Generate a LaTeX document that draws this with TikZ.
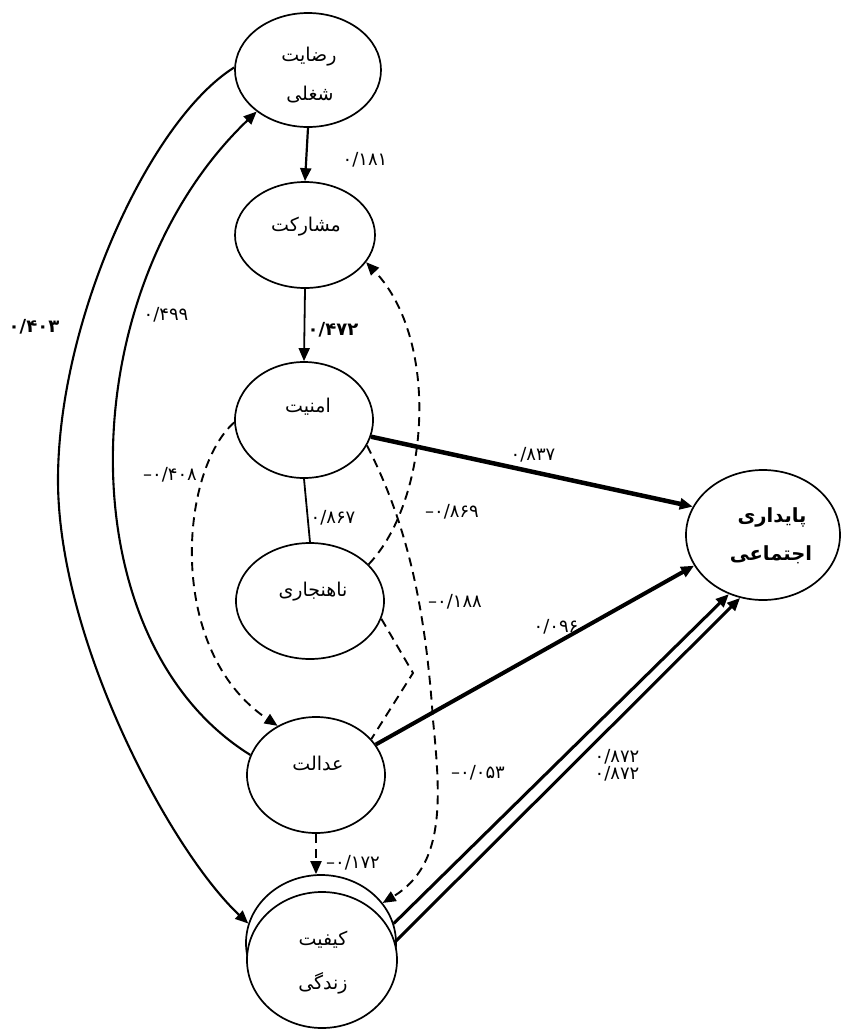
\documentclass[tikz,border=0pt]{standalone}
\usepackage{fontspec}
\usetikzlibrary{arrows.meta,shapes.geometric,calc}
\newfontfamily\fa[Script=Arabic]{DejaVu Sans}
\newfontfamily\num{DejaVu Sans}
\TeXXeTstate=1
\begin{document}
\begin{tikzpicture}[x=1pt,y=-1pt,
  el/.style={draw,ellipse,line width=1.7pt,fill=white,inner sep=0pt},
  ntext/.style={font=\fa\fontsize{19}{22}\selectfont,inner sep=0pt},
  btext/.style={font=\fa\bfseries\fontsize{19.5}{22}\selectfont,inner sep=0pt},
  arr/.style={-{Triangle[length=13pt,width=11pt]}},
  lbl/.style={font=\num\fontsize{18}{20}\selectfont,inner sep=0pt},
  blbl/.style={font=\num\bfseries\fontsize{18}{20}\selectfont,inner sep=0pt},
  dsh/.style={dash pattern=on 9pt off 6pt,line width=1.9pt}]
\useasboundingbox (0,0) rectangle (844,1029);
\fill[white] (0,0) rectangle (844,1029);

% ellipses
\node[el,minimum width=146pt,minimum height=114pt] (rs) at (308,70) {};
\node[el,minimum width=140pt,minimum height=106pt] (ms) at (305,235) {};
\node[el,minimum width=138pt,minimum height=116pt] (am) at (304,420) {};
\node[el,minimum width=148pt,minimum height=116pt] (nh) at (310,601) {};
\node[el,minimum width=138pt,minimum height=116pt] (ed) at (316,775) {};
\node[el,minimum width=150pt,minimum height=136pt] (kzb) at (321,943) {};
\node[el,minimum width=150pt,minimum height=136pt] (kz) at (322,960) {};
\node[el,minimum width=154pt,minimum height=130pt] (pe) at (763,535) {};

% node texts
\node[ntext] (rs1) at (309,57) {\beginR رضایت\endR};
\node[ntext] (rs2) at (310,95) {\beginR شغلی\endR};
\node[ntext] (mst) at (306,227) {\beginR مشارکت\endR};
\node[ntext] (amt) at (308,407) {\beginR امنیت\endR};
\node[ntext] (nht) at (313,592) {\beginR ناهنجاری\endR};
\node[ntext] (edt) at (318,763) {\beginR عدالت\endR};
\node[ntext] (kz1) at (323,940) {\beginR کیفیت\endR};
\node[ntext] (kz2) at (323,983) {\beginR زندگی\endR};
\node[btext] (pe1) at (772,517) {\beginR پایداری\endR};
\node[btext] (pe2) at (771,555) {\beginR اجتماعی\endR};

% solid straight connectors
\draw[arr,line width=2.2pt] (rs.south) -- (ms.north);
\draw[arr,line width=1.8pt] (ms.south) -- (am.north);
\draw[line width=1.8pt] (am.south) -- (nh.north);
\draw[arr,line width=4.5pt] (am.-14) -- (pe.158);
\draw[arr,line width=4pt] (ed.27) -- (pe.-156);
\draw[arr,line width=3pt] (kzb.15) -- (pe.-120);
\draw[arr,line width=3pt] (kz.14) -- (pe.-110);

% left arcs
\coordinate (lft) at (58,480);
\draw[arr,line width=2.1pt] (ed.163) .. controls (65,640) and (70,290) .. (rs.219);
\draw[arr,line width=2.1pt] (rs.178) .. controls (150,120) and (58,320) .. (lft)
   .. controls (58,640) and (170,850) .. (kzb.165);

% dashed connectors
\draw[arr,dsh] (nh.32) .. controls (430,500) and (440,340) .. (ms.-24);
\draw[arr,dsh] (am.182) .. controls (180,470) and (165,650) .. (ed.128);
\coordinate (mid) at (433,720);
\draw[arr,dsh] (am.-22) .. controls (405,520) and (425,600) .. (mid)
   .. controls (441,800) and (445,865) .. (kzb.33);
\coordinate (vtx) at (413,673);
\draw[dsh] (nh.-14) -- (vtx) -- (ed.33);
\draw[arr,dsh] (ed.south) -- (ed.south |- kzb.north);

% labels
\node[lbl] (l181) at (365,160) {۰/۱۸۱};
\node[blbl] (l472) at (333,330) {۰/۴۷۲};
\node[lbl] (l867) at (333,518) {۰/۸۶۷};
\node[lbl] (l837) at (533,455) {۰/۸۳۷};
\node[lbl] (l869) at (452,512) {–۰/۸۶۹};
\node[lbl] (l408) at (170,475) {–۰/۴۰۸};
\node[lbl] (l188) at (455,602) {–۰/۱۸۸};
\node[lbl] (l096) at (556,627) {۰/۰۹۶};
\node[lbl] (l053) at (478,773) {–۰/۰۵۳};
\node[lbl] (l172) at (353,863) {–۰/۱۷۲};
\node[lbl] (l872a) at (617,757) {۰/۸۷۲};
\node[lbl] (l872b) at (617,774) {۰/۸۷۲};
\node[blbl] (l403) at (34,327) {۰/۴۰۳};
\node[lbl] (l499) at (166,315) {۰/۴۹۹};
\end{tikzpicture}
\end{document}
